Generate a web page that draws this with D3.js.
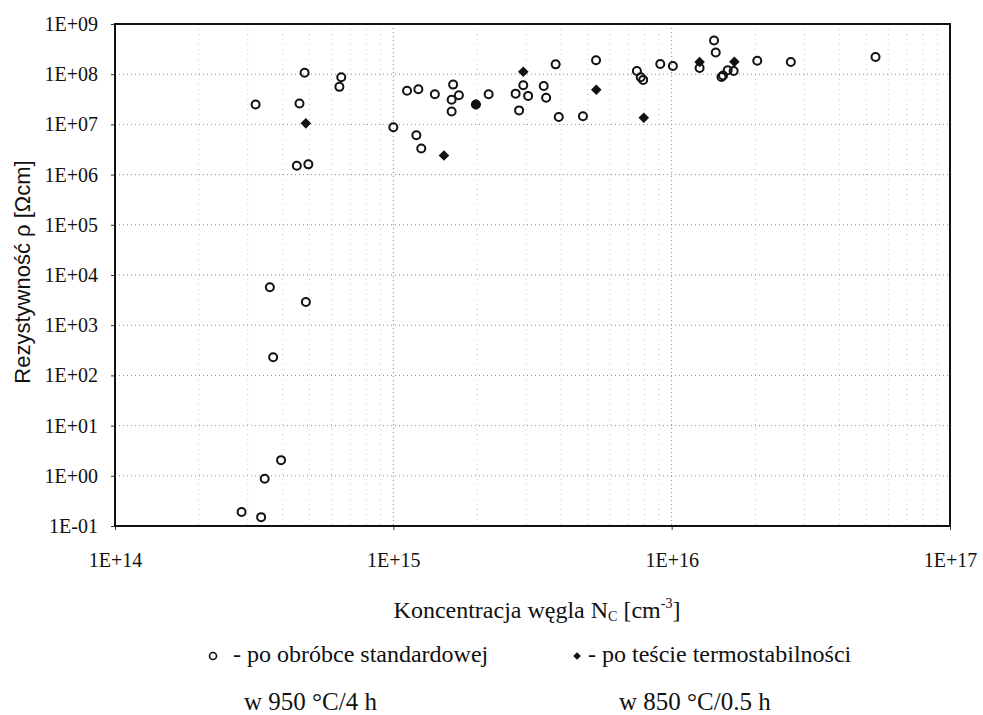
<!DOCTYPE html>
<html>
<head>
<meta charset="utf-8">
<script src="https://cdn.jsdelivr.net/npm/d3@7"></script>
<style>
  body { margin: 0; background: #fff; }
</style>
</head>
<body>
<svg id="chart"></svg>
<script>
// carbon concentration [cm^-3], resistivity [Ohm cm]
const standardPoints = [
    [3.2e14, 2.5e7], [4.8e14, 1.07e8], [4.6e14, 2.6e7], [4.5e14, 1.5e6], [4.95e14, 1.6e6],
    [3.6e14, 5.7e3], [4.85e14, 2.9e3], [3.7e14, 230], [3.95e14, 2.05], [3.45e14, 0.87],
    [2.85e14, 0.19], [3.35e14, 0.15], [6.5e14, 8.7e7], [6.4e14, 5.6e7], [1.0e15, 8.8e6],
    [1.12e15, 4.7e7], [1.23e15, 5.0e7], [1.21e15, 6.1e6], [1.26e15, 3.3e6], [1.41e15, 4.0e7],
    [1.64e15, 6.2e7], [1.72e15, 3.8e7], [1.62e15, 3.1e7], [1.62e15, 1.8e7], [1.98e15, 2.5e7],
    [2.2e15, 4.0e7], [2.75e15, 4.1e7], [2.93e15, 6.0e7], [3.05e15, 3.7e7], [2.83e15, 1.9e7],
    [3.47e15, 5.8e7], [3.54e15, 3.4e7], [3.83e15, 1.57e8], [3.93e15, 1.4e7], [4.8e15, 1.45e7],
    [5.35e15, 1.9e8], [7.5e15, 1.16e8], [7.74e15, 8.7e7], [7.9e15, 7.7e7], [9.1e15, 1.6e8],
    [1.01e16, 1.46e8], [1.26e16, 1.33e8], [1.42e16, 4.7e8], [1.44e16, 2.7e8], [1.53e16, 9.4e7],
    [1.51e16, 8.8e7], [1.59e16, 1.2e8], [1.67e16, 1.16e8], [2.03e16, 1.86e8], [2.68e16, 1.75e8],
    [5.4e16, 2.2e8]
];

const thermoPoints = [
    [4.85e14, 1.05e7], [1.52e15, 2.4e6], [1.98e15, 2.5e7], [2.93e15, 1.12e8],
    [5.36e15, 4.9e7], [7.94e15, 1.36e7], [1.26e16, 1.75e8], [1.68e16, 1.77e8]
];

const xTicks = [1e14, 1e15, 1e16, 1e17];
const yTicks = [1e-1, 1e0, 1e1, 1e2, 1e3, 1e4, 1e5, 1e6, 1e7, 1e8, 1e9];

const yTitle = 'Rezystywność ρ [Ωcm]';
const legendStandard = ['- po obróbce standardowej', 'w 950 °C/4 h'];
const legendThermo = ['- po teście termostabilności', 'w 850 °C/0.5 h'];

const SERIF = '"Liberation Serif", "Times New Roman", Times, serif';

class LogScatter {
    constructor(_config) {
        this.config = {
            parentElement: _config.parentElement,
            containerWidth: 983,
            containerHeight: 715,
            margin: { top: 24, right: 33, left: 115, bottom: 189 }
        };
        this.initVis();
    }

    initVis() {
        let vis = this;
        vis.width = vis.config.containerWidth - vis.config.margin.left - vis.config.margin.right;
        vis.height = vis.config.containerHeight - vis.config.margin.top - vis.config.margin.bottom;

        vis.svg = d3.select(vis.config.parentElement)
            .attr('width', vis.config.containerWidth)
            .attr('height', vis.config.containerHeight);

        vis.chart = vis.svg.append('g')
            .attr('transform', `translate(${vis.config.margin.left},${vis.config.margin.top})`);

        vis.xScale = d3.scaleLog().domain([1e14, 1e17]).range([0, vis.width]);
        vis.yScale = d3.scaleLog().domain([1e-1, 1e9]).range([vis.height, 0]);

        // 1E+14 style labels
        const fmt = d => {
            const e = Math.round(Math.log10(d));
            return '1E' + (e < 0 ? '-' : '+') + String(Math.abs(e)).padStart(2, '0');
        };

        // minor vertical grid (faint)
        const minorX = vis.xScale.ticks().filter(d => !xTicks.includes(d));
        vis.chart.append('g').selectAll('line')
            .data(minorX)
            .join('line')
            .attr('x1', d => vis.xScale(d)).attr('x2', d => vis.xScale(d))
            .attr('y1', 0).attr('y2', vis.height)
            .attr('stroke', '#c8c8c8').attr('stroke-dasharray', '1,4');

        // major grid
        vis.chart.append('g').selectAll('line')
            .data(yTicks.slice(1, -1))
            .join('line')
            .attr('x1', 0).attr('x2', vis.width)
            .attr('y1', d => vis.yScale(d)).attr('y2', d => vis.yScale(d))
            .attr('stroke', '#8a8a8a').attr('stroke-dasharray', '1,3');
        vis.chart.append('g').selectAll('line')
            .data(xTicks.slice(1, -1))
            .join('line')
            .attr('x1', d => vis.xScale(d)).attr('x2', d => vis.xScale(d))
            .attr('y1', 0).attr('y2', vis.height)
            .attr('stroke', '#8a8a8a').attr('stroke-dasharray', '1,3');

        // axes
        vis.xAxisGroup = vis.chart.append('g')
            .attr('transform', `translate(0,${vis.height})`)
            .call(d3.axisBottom(vis.xScale).tickValues(xTicks).tickFormat(fmt).tickSize(4).tickPadding(23));
        vis.yAxisGroup = vis.chart.append('g')
            .call(d3.axisLeft(vis.yScale).tickValues(yTicks).tickFormat(fmt).tickSize(4).tickPadding(13));
        [vis.xAxisGroup, vis.yAxisGroup].forEach(g => {
            g.select('.domain').remove();
            g.selectAll('text').style('font-family', SERIF).style('font-size', '20px').attr('fill', '#111');
            g.selectAll('line').attr('stroke', '#333');
        });

        vis.chart.append('rect')
            .attr('width', vis.width).attr('height', vis.height)
            .attr('fill', 'none').attr('stroke', '#111').attr('stroke-width', 2);

        // data points
        vis.chart.append('g').selectAll('circle')
            .data(standardPoints)
            .join('circle')
            .attr('cx', d => vis.xScale(d[0]))
            .attr('cy', d => vis.yScale(d[1]))
            .attr('r', 4)
            .attr('fill', 'none').attr('stroke', '#111').attr('stroke-width', 2);

        const diamond = d3.symbol().type(d3.symbolSquare).size(56);
        vis.chart.append('g').selectAll('path')
            .data(thermoPoints)
            .join('path')
            .attr('d', diamond)
            .attr('transform', d => `translate(${vis.xScale(d[0])},${vis.yScale(d[1])}) rotate(45)`)
            .attr('fill', '#111');

        // titles
        vis.svg.append('text')
            .attr('transform', 'translate(30,272) rotate(-90)')
            .attr('text-anchor', 'middle')
            .style('font-family', '"Liberation Sans", Arial, sans-serif')
            .style('font-size', '22px')
            .attr('fill', '#111')
            .text(yTitle);

        const xt = vis.svg.append('text')
            .attr('x', 537).attr('y', 618)
            .attr('text-anchor', 'middle')
            .attr('fill', '#111')
            .style('font-family', SERIF)
            .style('font-size', '24px');
        xt.append('tspan').text('Koncentracja węgla  N');
        xt.append('tspan').style('font-size', '14px').attr('dy', 3).text('C');
        xt.append('tspan').attr('dy', -3).text(' [cm');
        xt.append('tspan').style('font-size', '14px').attr('dy', -10).text('-3');
        xt.append('tspan').attr('dy', 10).text(']');

        // legend
        vis.svg.append('circle')
            .attr('cx', 213).attr('cy', 656).attr('r', 3.5)
            .attr('fill', 'none').attr('stroke', '#111').attr('stroke-width', 1.6);
        vis.svg.append('path')
            .attr('d', d3.symbol().type(d3.symbolSquare).size(30))
            .attr('transform', 'translate(577,656) rotate(45)')
            .attr('fill', '#111');

        const legendText = [
            [233, 662, 24, legendStandard[0]],
            [588, 662, 24, legendThermo[0]],
            [244, 710, 25, legendStandard[1]],
            [619, 710, 25, legendThermo[1]]
        ];
        vis.svg.append('g').selectAll('text')
            .data(legendText)
            .join('text')
            .attr('x', d => d[0]).attr('y', d => d[1])
            .attr('fill', '#111')
            .style('font-family', SERIF)
            .style('font-size', d => d[2] + 'px')
            .text(d => d[3]);
    }
}

new LogScatter({ parentElement: '#chart' });
</script>
</body>
</html>
